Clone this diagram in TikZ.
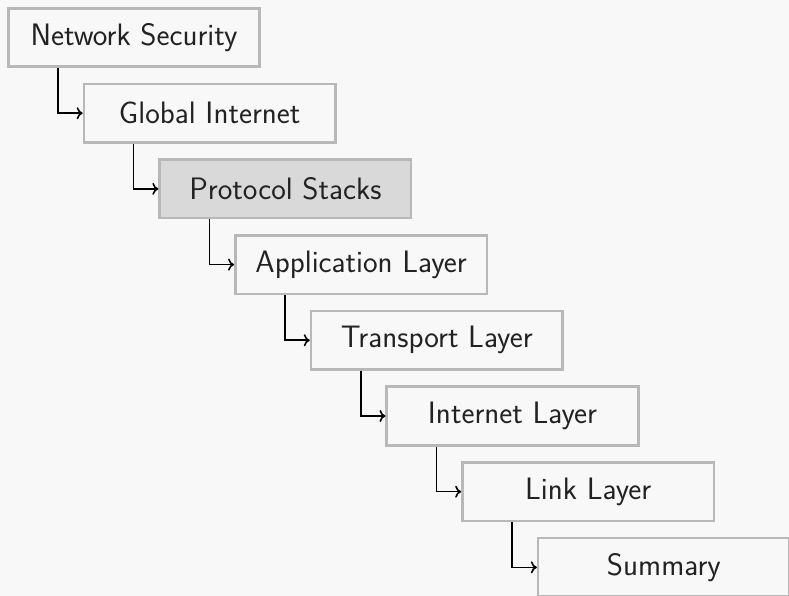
\documentclass[tikz,border=0pt]{standalone}
\usetikzlibrary{arrows.meta}
\definecolor{bgc}{RGB}{248,248,248}
\definecolor{boxline}{RGB}{184,184,184}
\definecolor{hlfill}{RGB}{217,217,217}
\definecolor{txt}{RGB}{34,34,34}
\begin{document}
\begin{tikzpicture}[x=1pt,y=1pt,
  box/.style={draw=boxline, line width=2.6pt, fill=bgc, minimum width=251.5pt, minimum height=58.5pt,
    inner sep=0pt, text=txt, font=\sffamily\fontsize{31}{36}\selectfont},
  hl/.style={box, fill=hlfill},
  conn/.style={line width=1.6pt, -{To[length=6pt,width=12pt]}}]
\fill[bgc] (0,0) rectangle (789,596);
\useasboundingbox (0,0) rectangle (789,596);
\node[box] (n1) at ({134+0*75.7},{596-37.5-0*75.7}) {Network Security};
\node[box] (n2) at ({134+1*75.7},{596-37.5-1*75.7}) {Global Internet};
\node[hl]  (n3) at ({134+2*75.7},{596-37.5-2*75.7}) {Protocol Stacks};
\node[box] (n4) at ({134+3*75.7},{596-37.5-3*75.7}) {Application Layer};
\node[box] (n5) at ({134+4*75.7},{596-37.5-4*75.7}) {Transport Layer};
\node[box] (n6) at ({134+5*75.7},{596-37.5-5*75.7}) {Internet Layer};
\node[box] (n7) at ({134+6*75.7},{596-37.5-6*75.7}) {Link Layer};
\node[box] (n8) at ({134+7*75.7},{596-37.5-7*75.7}) {Summary};
\foreach \a/\b in {n1/n2,n2/n3,n3/n4,n4/n5,n5/n6,n6/n7,n7/n8}{
  \draw[conn] ([xshift=51pt]\a.south west) |- (\b.west);
}
\end{tikzpicture}
\end{document}
